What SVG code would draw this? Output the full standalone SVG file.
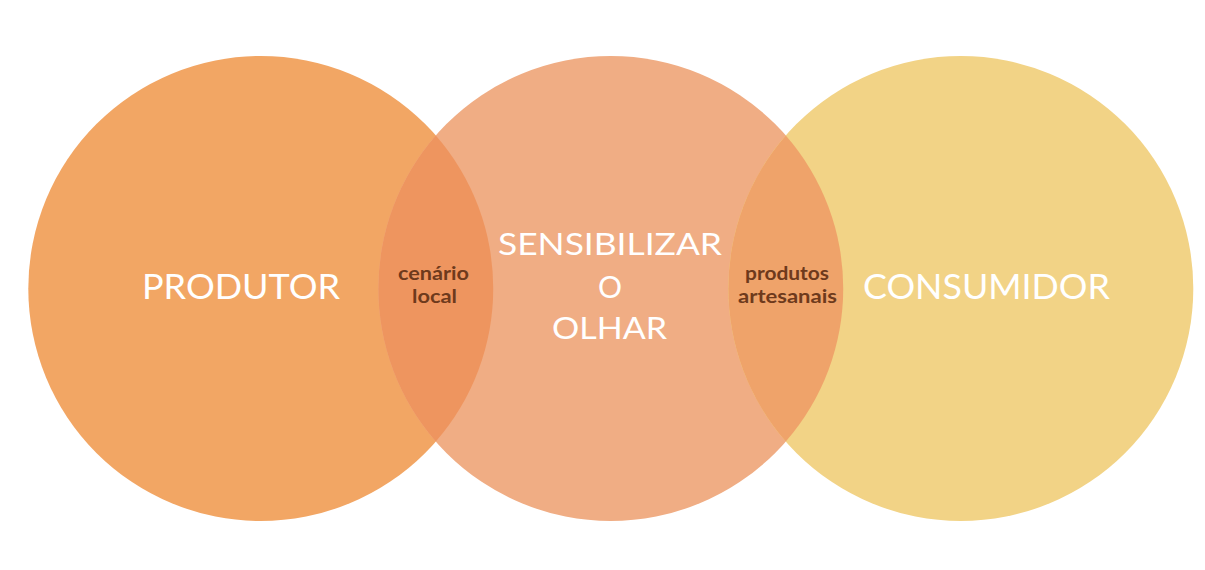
<svg xmlns="http://www.w3.org/2000/svg" width="1205" height="570" viewBox="0 0 1205 570">
  <style>
    .big { font-family: Lato, "Open Sans", "Liberation Sans", sans-serif; font-size: 35px; fill: #ffffff; text-anchor: middle; }
    .mid { font-family: Lato, "Open Sans", "Liberation Sans", sans-serif; font-size: 30px; fill: #ffffff; text-anchor: middle; }
    .small { font-family: Lato, "Open Sans", "Liberation Sans", sans-serif; font-size: 18.5px; font-weight: bold; fill: #6E3A1C; text-anchor: middle; }
  </style>
  <rect x="0" y="0" width="1205" height="570" fill="#ffffff"/>
  <g id="produtor">
    <circle cx="260.8" cy="288.5" r="232.5" fill="#F2A664"/>
    <text class="big" x="241" y="299" textLength="198" lengthAdjust="spacingAndGlyphs">PRODUTOR</text>
  </g>
  <g id="sensibilizar">
    <circle cx="610.8" cy="288.5" r="232.5" fill="#F0AD84"/>
  </g>
  <g id="consumidor">
    <circle cx="960.8" cy="288.5" r="232.5" fill="#F2D386"/>
    <text class="big" x="986.5" y="299" textLength="247" lengthAdjust="spacingAndGlyphs">CONSUMIDOR</text>
  </g>
  <g id="cenario-local">
    <path d="M435.8,135.5 A232.5,232.5 0 0 0 435.8,441.5 A232.5,232.5 0 0 0 435.8,135.5 Z" fill="#EE955F"/>
    <text class="small" x="433.5" y="280" textLength="71" lengthAdjust="spacingAndGlyphs">cenário</text>
    <text class="small" x="434.5" y="303" textLength="45" lengthAdjust="spacingAndGlyphs">local</text>
  </g>
  <g id="produtos-artesanais">
    <path d="M785.8,135.5 A232.5,232.5 0 0 0 785.8,441.5 A232.5,232.5 0 0 0 785.8,135.5 Z" fill="#EFA36A"/>
    <text class="small" x="787" y="280" textLength="84" lengthAdjust="spacingAndGlyphs">produtos</text>
    <text class="small" x="787.5" y="303" textLength="99" lengthAdjust="spacingAndGlyphs">artesanais</text>
  </g>
  <g id="sensibilizar-label">
    <text class="mid" x="610" y="255" textLength="224" lengthAdjust="spacingAndGlyphs">SENSIBILIZAR</text>
    <text class="mid" x="610" y="298">O</text>
    <text class="mid" x="609.5" y="339" textLength="115" lengthAdjust="spacingAndGlyphs">OLHAR</text>
  </g>
  <g id="connectors"></g>
</svg>
